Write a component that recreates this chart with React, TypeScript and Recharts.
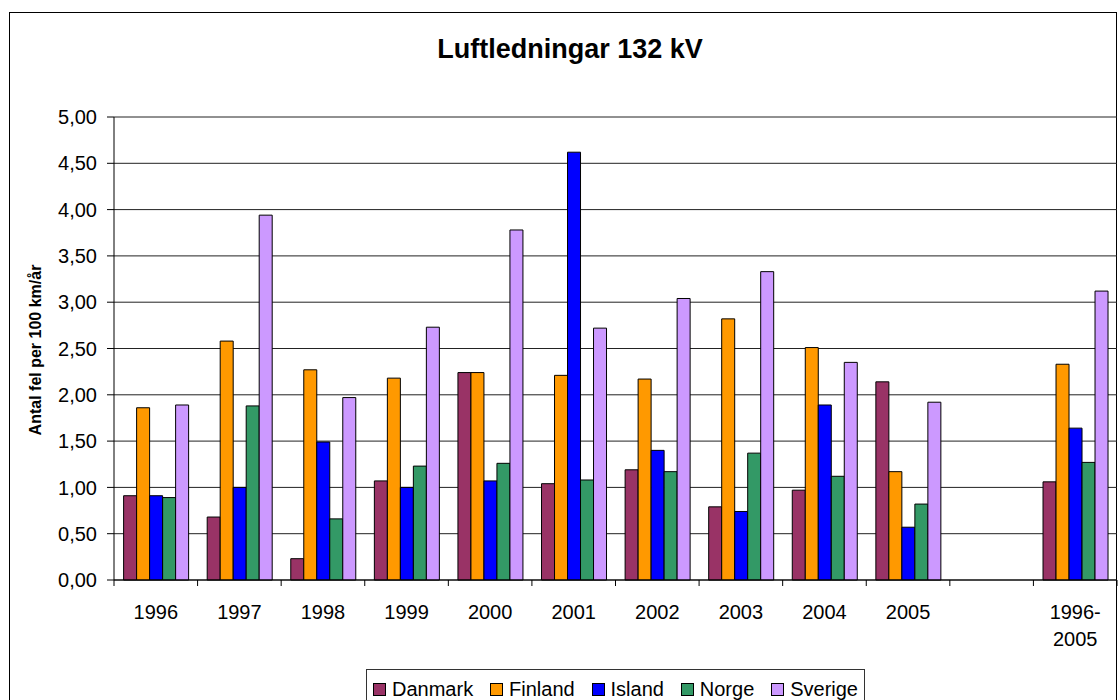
import { Bar, BarChart, CartesianGrid, Legend, XAxis, YAxis } from "recharts";

const categories = ["1996", "1997", "1998", "1999", "2000", "2001", "2002", "2003", "2004", "2005", "", "1996-2005"];
const danmark = [0.91, 0.68, 0.23, 1.07, 2.24, 1.04, 1.19, 0.79, 0.97, 2.14, null, 1.06];
const finland = [1.86, 2.58, 2.27, 2.18, 2.24, 2.21, 2.17, 2.82, 2.51, 1.17, null, 2.33];
const island = [0.91, 1.0, 1.49, 1.0, 1.07, 4.62, 1.4, 0.74, 1.89, 0.57, null, 1.64];
const norge = [0.89, 1.88, 0.66, 1.23, 1.26, 1.08, 1.17, 1.37, 1.12, 0.82, null, 1.27];
const sverige = [1.89, 3.94, 1.97, 2.73, 3.78, 2.72, 3.04, 3.33, 2.35, 1.92, null, 3.12];
const yTicks = [0, 0.5, 1, 1.5, 2, 2.5, 3, 3.5, 4, 4.5, 5];

const series = [
  { key: "Danmark", color: "#993366" },
  { key: "Finland", color: "#FF9900" },
  { key: "Island", color: "#0000FF" },
  { key: "Norge", color: "#339966" },
  { key: "Sverige", color: "#CC99FF" },
];

const data = categories.map((name, i) => ({
  name,
  Danmark: danmark[i],
  Finland: finland[i],
  Island: island[i],
  Norge: norge[i],
  Sverige: sverige[i],
}));

const FONT = '"Liberation Sans", Arial, sans-serif';
const WIDTH = 1118;
const HEIGHT = 700;
const MARGIN = { top: 117, right: 1, bottom: 0, left: 8 };
const Y_AXIS_WIDTH = 106;
const BAND = (WIDTH - MARGIN.left - MARGIN.right - Y_AXIS_WIDTH) / categories.length;

function CategoryTick(props: any) {
  const { x, y, payload, index } = props;
  const lines = String(payload.value).includes("-")
    ? [String(payload.value).split("-")[0] + "-", String(payload.value).split("-")[1]]
    : [String(payload.value)];
  const isLast = index === categories.length - 1;
  return (
    <g>
      <line x1={x - BAND / 2} x2={x - BAND / 2} y1={y} y2={y + 6} stroke="#000" />
      {isLast && <line x1={x + BAND / 2} x2={x + BAND / 2} y1={y} y2={y + 6} stroke="#000" />}
      <text x={x} y={y + 39} textAnchor="middle" fontSize={20} fontFamily={FONT} fill="#000">
        {lines.map((l, i) => (
          <tspan key={i} x={x} dy={i === 0 ? 0 : 27}>
            {l}
          </tspan>
        ))}
      </text>
    </g>
  );
}

function LegendBox() {
  return (
    <div
      style={{
        boxSizing: "border-box",
        width: 499,
        height: 40,
        border: "1px solid #333",
        background: "#fff",
        display: "flex",
        justifyContent: "space-between",
        alignItems: "center",
        padding: "0 6px",
        fontFamily: FONT,
        fontSize: 20,
        color: "#000",
      }}
    >
      {series.map((s) => (
        <div key={s.key} style={{ display: "flex", alignItems: "center" }}>
          <span
            style={{
              display: "inline-block",
              boxSizing: "border-box",
              width: 13,
              height: 13,
              background: s.color,
              border: "1px solid #000",
              marginRight: 6,
            }}
          />
          <span>{s.key}</span>
        </div>
      ))}
    </div>
  );
}

export default function App() {
  return (
    <div style={{ position: "absolute", left: 0, top: 0, width: WIDTH, height: HEIGHT, background: "#fff", overflow: "hidden" }}>
      <div
        style={{
          position: "absolute",
          left: 9,
          top: 12,
          width: 1108,
          height: 720,
          boxSizing: "border-box",
          border: "1px solid #000",
        }}
      />
      <div
        style={{
          position: "absolute",
          left: 0,
          top: 36,
          width: 1140,
          textAlign: "center",
          fontFamily: FONT,
          fontWeight: "bold",
          fontSize: 27,
          lineHeight: "27px",
          color: "#000",
        }}
      >
        Luftledningar 132 kV
      </div>
      <div style={{ position: "absolute", left: 0, top: 0 }}>
        <BarChart
          width={WIDTH}
          height={HEIGHT}
          data={data}
          margin={MARGIN}
          barCategoryGap="11.5%"
          barGap={0}
        >
          <CartesianGrid vertical={false} stroke="#222" />
          <XAxis
            dataKey="name"
            interval={0}
            height={120}
            tickSize={0}
            tickMargin={0}
            tickLine={false}
            axisLine={{ stroke: "#000" }}
            tick={<CategoryTick />}
          />
          <YAxis
            width={Y_AXIS_WIDTH}
            domain={[0, 5]}
            ticks={yTicks}
            interval={0}
            tickSize={7}
            tickMargin={10}
            axisLine={{ stroke: "#000" }}
            tickLine={{ stroke: "#000" }}
            tick={{ fontSize: 20, fontFamily: FONT, fill: "#000" }}
            tickFormatter={(v: number) => v.toFixed(2).replace(".", ",")}
            label={{
              content: () => (
                <text
                  x={35}
                  y={350}
                  transform="rotate(-90 35 350)"
                  textAnchor="middle"
                  dominantBaseline="central"
                  fontSize={16}
                  fontWeight="bold"
                  fontFamily={FONT}
                  fill="#000"
                >
                  Antal fel per 100 km/år
                </text>
              ),
            }}
          />
          <Legend
            layout="horizontal"
            verticalAlign="middle"
            align="center"
            wrapperStyle={{ left: 366, top: 669, width: 499 }}
            content={<LegendBox />}
          />
          {series.map((s) => (
            <Bar key={s.key} dataKey={s.key} fill={s.color} stroke="#000" strokeWidth={1} isAnimationActive={false} />
          ))}
        </BarChart>
      </div>
    </div>
  );
}
